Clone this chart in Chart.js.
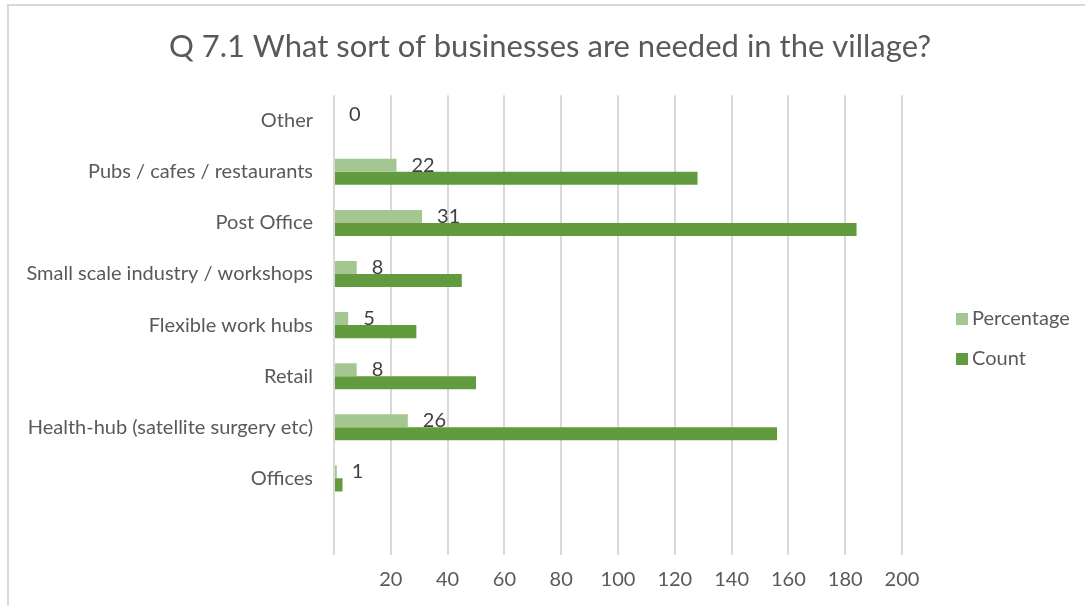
<!DOCTYPE html>
<html lang="en">
<head>
    <meta charset="UTF-8">
    <title>Q 7.1 Businesses needed</title>
    <script src="https://cdn.jsdelivr.net/npm/chart.js"></script>
    <style>
        html, body {
            margin: 0;
            padding: 0;
            background: #fff;
        }
        .chart-wrap {
            position: relative;
            width: 1085px;
            height: 606px;
        }
        .frame {
            position: absolute;
            left: 7px;
            top: 4px;
            right: 0;
            bottom: 0;
            border-top: 2px solid #d9d9d9;
            border-left: 2px solid #d9d9d9;
            pointer-events: none;
        }
    </style>
</head>
<body>
    <div class="chart-wrap">
        <canvas id="businessChart" width="1085" height="606"></canvas>
        <div class="frame"></div>
    </div>

    <script>
        const categories = [
            'Other',
            'Pubs / cafes / restaurants',
            'Post Office',
            'Small scale industry / workshops',
            'Flexible work hubs',
            'Retail',
            'Health-hub (satellite surgery etc)',
            'Offices',
            ''
        ];
        const percentValues = [0, 22, 31, 8, 5, 8, 26, 1, null];
        const countValues = [0, 128, 184, 45, 29, 50, 156, 3, null];
        const xTicks = [20, 40, 60, 80, 100, 120, 140, 160, 180, 200];

        const FONT = 'Lato, "Open Sans", sans-serif';
        const TEXT = '#595959';

        // value labels next to the percentage bars
        const percentLabels = {
            id: 'percentLabels',
            afterDatasetsDraw(chart) {
                const ctx = chart.ctx;
                const meta = chart.getDatasetMeta(0);
                ctx.save();
                ctx.font = '20px ' + FONT;
                ctx.fillStyle = '#404040';
                ctx.textAlign = 'left';
                ctx.textBaseline = 'middle';
                meta.data.forEach((bar, i) => {
                    const v = percentValues[i];
                    if (v === null) return;
                    ctx.fillText(String(v), bar.x + 15, bar.y);
                });
                ctx.restore();
            }
        };

        // legend on the right, squares + series names
        const sideLegend = {
            id: 'sideLegend',
            afterDraw(chart) {
                const ctx = chart.ctx;
                const x = 956;
                let y = 319;
                ctx.save();
                ctx.font = '20px ' + FONT;
                ctx.textAlign = 'left';
                ctx.textBaseline = 'middle';
                chart.data.datasets.forEach(ds => {
                    ctx.fillStyle = ds.backgroundColor;
                    ctx.fillRect(x, y - 6, 12, 12);
                    ctx.fillStyle = TEXT;
                    ctx.fillText(ds.label, x + 16, y);
                    y += 40;
                });
                ctx.restore();
            }
        };

        new Chart(document.getElementById('businessChart'), {
            type: 'bar',
            data: {
                labels: categories,
                datasets: [
                    {
                        label: 'Percentage',
                        data: percentValues,
                        backgroundColor: '#a4c791'
                    },
                    {
                        label: 'Count',
                        data: countValues,
                        backgroundColor: '#629b3e'
                    }
                ]
            },
            options: {
                indexAxis: 'y',
                responsive: false,
                animation: false,
                categoryPercentage: 0.51,
                barPercentage: 1,
                layout: {
                    padding: { left: 15, right: 0, top: 0, bottom: 0 }
                },
                plugins: {
                    legend: { display: false },
                    tooltip: { enabled: false },
                    title: {
                        display: true,
                        text: 'Q 7.1 What sort of businesses are needed in the village?',
                        color: TEXT,
                        font: { family: FONT, size: 31, weight: 'normal', lineHeight: 1.2 },
                        padding: { top: 28, bottom: 30 }
                    }
                },
                scales: {
                    x: {
                        min: 0,
                        max: 200,
                        afterBuildTicks(scale) {
                            scale.ticks = [0].concat(xTicks).map(v => ({ value: v }));
                        },
                        afterFit(scale) {
                            scale.height = 51;
                        },
                        ticks: {
                            color: TEXT,
                            font: { family: FONT, size: 20 },
                            padding: 13,
                            callback: v => (v === 0 ? '' : v)
                        },
                        grid: {
                            color: '#d9d9d9',
                            lineWidth: 2,
                            drawTicks: false
                        },
                        border: { display: false }
                    },
                    y: {
                        afterFit(scale) {
                            scale.width = 319;
                        },
                        ticks: {
                            color: TEXT,
                            font: { family: FONT, size: 20 },
                            padding: 21
                        },
                        grid: { display: false, drawTicks: false },
                        border: { display: false }
                    },
                    // empty strip on the right that leaves room for the legend
                    side: {
                        type: 'linear',
                        position: 'right',
                        afterFit(scale) {
                            scale.width = 183;
                        },
                        ticks: { display: false },
                        grid: { display: false, drawTicks: false },
                        border: { display: false }
                    }
                }
            },
            plugins: [percentLabels, sideLegend]
        });
    </script>
</body>
</html>
